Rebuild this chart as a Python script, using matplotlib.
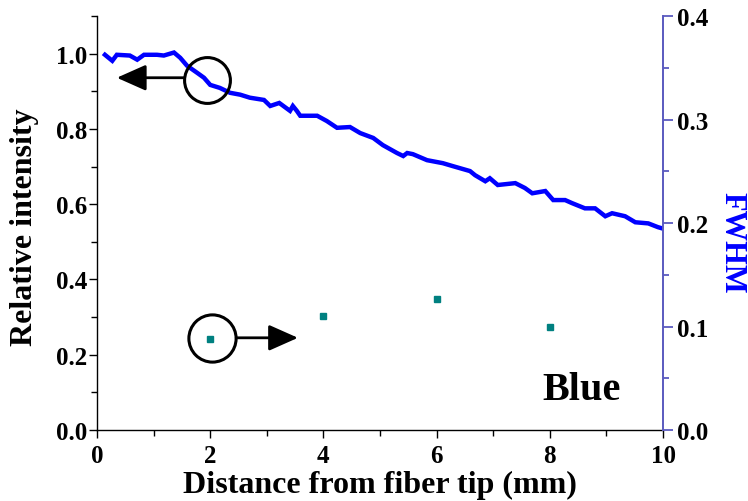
import matplotlib
matplotlib.use("Agg")
import matplotlib.pyplot as plt
from matplotlib.ticker import MultipleLocator

plt.rcParams['font.family'] = ['Liberation Serif', 'DejaVu Serif']
plt.rcParams['font.weight'] = 'bold'

# Relative intensity along the fiber (left axis)
dist_mm = [0.14, 0.27, 0.35, 0.58, 0.71, 0.83, 1.06, 1.18, 1.36, 1.47,
           1.59, 1.77, 1.89, 2.00, 2.17, 2.35, 2.53, 2.70, 2.95, 3.06,
           3.22, 3.41, 3.46, 3.53, 3.59, 3.89, 4.06, 4.24, 4.47, 4.65,
           4.88, 5.05, 5.30, 5.41, 5.48, 5.58, 5.83, 6.11, 6.29, 6.59,
           6.68, 6.86, 6.94, 7.08, 7.39, 7.56, 7.69, 7.92, 8.06, 8.27,
           8.39, 8.62, 8.80, 8.98, 9.10, 9.33, 9.51, 9.74, 9.91, 9.98]
rel_intensity = [0.997, 0.981, 0.997, 0.995, 0.984, 0.997, 0.997, 0.995, 1.003, 0.989,
                 0.968, 0.949, 0.936, 0.917, 0.909, 0.896, 0.891, 0.883, 0.877, 0.861,
                 0.869, 0.848, 0.861, 0.848, 0.835, 0.835, 0.821, 0.803, 0.805, 0.789,
                 0.776, 0.757, 0.736, 0.728, 0.736, 0.733, 0.717, 0.709, 0.701, 0.688,
                 0.677, 0.661, 0.669, 0.651, 0.656, 0.643, 0.629, 0.635, 0.611, 0.611,
                 0.603, 0.589, 0.589, 0.568, 0.576, 0.568, 0.552, 0.549, 0.539, 0.536]

# FWHM measurements (right axis)
fwhm_dist = [2, 4, 6, 8]
fwhm_vals = [0.088, 0.110, 0.127, 0.100]

x_ticks = [0, 2, 4, 6, 8, 10]
left_ticks = [0.0, 0.2, 0.4, 0.6, 0.8, 1.0]
right_ticks = [0.0, 0.1, 0.2, 0.3, 0.4]

RIGHT_SPINE = '#5a5abf'

fig = plt.figure(figsize=(7.48, 5.02), dpi=100)
ax = fig.add_axes([0.1297, 0.1414, 0.7567, 0.8247])
ax2 = ax.twinx()

ax.plot(dist_mm, rel_intensity, color='#0000ff', lw=3.2, solid_joinstyle='miter')
ax2.plot(fwhm_dist, fwhm_vals, ls='none', marker='s', ms=5, color='#008080')

ax.set_xlim(0, 10)
ax.set_ylim(0, 1.1)
ax2.set_ylim(0, 0.4)

ax.set_xticks(x_ticks)
ax.set_xticklabels([str(v) for v in x_ticks])
ax.set_yticks(left_ticks)
ax.set_yticklabels([f'{v:.1f}' for v in left_ticks])
ax2.set_yticks(right_ticks)
ax2.set_yticklabels([f'{v:.1f}' for v in right_ticks])
ax.xaxis.set_minor_locator(MultipleLocator(1))
ax.yaxis.set_minor_locator(MultipleLocator(0.1))
ax2.yaxis.set_minor_locator(MultipleLocator(0.05))

for a in (ax, ax2):
    a.spines['top'].set_visible(False)
ax2.spines['left'].set_visible(False)
ax2.spines['bottom'].set_visible(False)
ax.spines['right'].set_visible(False)
ax.spines['left'].set_linewidth(1.0)
ax.spines['bottom'].set_linewidth(1.0)
ax2.spines['right'].set_color(RIGHT_SPINE)
ax2.spines['right'].set_linewidth(1.4)

ax.tick_params(axis='both', which='major', direction='out', length=6, width=1.0,
               labelsize=18, pad=1)
ax.tick_params(axis='both', which='minor', direction='out', length=4, width=1.0)
ax.tick_params(axis='x', which='major', pad=4)
ax2.tick_params(axis='y', which='major', direction='out', length=7, width=1.3,
                color=RIGHT_SPINE, labelsize=18, pad=3)
ax2.tick_params(axis='y', which='minor', direction='out', length=4, width=1.3,
                color=RIGHT_SPINE)

ax.set_xlabel('Distance from fiber tip (mm)', fontsize=23, fontweight='bold', labelpad=2)
ax.set_ylabel('Relative intensity', fontsize=23, fontweight='bold', va='center')
ax.yaxis.set_label_coords(-0.128, 0.493)
ax2.set_ylabel('FWHM', fontsize=22, fontweight='bold', color='#0000ff', rotation=270,
               va='center', ha='center')
ax2.yaxis.set_label_coords(1.122, 0.455)

ax.text(7.86, 0.083, 'Blue', fontsize=29, fontweight='bold', ha='left', va='baseline')

# Circle-and-arrow pointers to each curve's axis
ax.plot([1.94], [0.931], marker='o', ms=33, mfc='none', mec='black', mew=2.2)
ax.annotate('', xy=(0.35, 0.936), xytext=(1.54, 0.936),
            arrowprops=dict(arrowstyle='-|>,head_length=1.8,head_width=0.8',
                            color='black', lw=2.0, shrinkA=0, shrinkB=0))
ax.plot([2.03], [0.245], marker='o', ms=34, mfc='none', mec='black', mew=2.2)
ax.annotate('', xy=(3.55, 0.245), xytext=(2.46, 0.245),
            arrowprops=dict(arrowstyle='-|>,head_length=1.8,head_width=0.8',
                            color='black', lw=2.0, shrinkA=0, shrinkB=0))

fig.savefig('out.png', dpi=100)
